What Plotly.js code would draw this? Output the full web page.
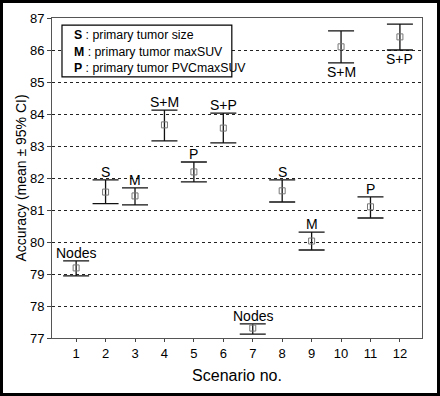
<!DOCTYPE html>
<html><head><meta charset="utf-8">
<script src="https://cdn.plot.ly/plotly-3.0.1.min.js"></script>
<style>
html,body{margin:0;padding:0;background:#fff;}
#wrap{position:relative;width:440px;height:396px;}
#frame{position:absolute;left:0;top:0;width:440px;height:396px;box-sizing:border-box;border:3px solid #000;pointer-events:none;}
</style></head>
<body><div id="wrap"><div id="plot" style="width:440px;height:396px;"></div><div id="frame"></div></div>
<script>
const scenarios = [1,2,3,4,5,6,7,8,9,10,11,12];
const means = [79.19,81.56,81.44,83.66,82.19,83.56,77.31,81.6,80.03,86.1,81.1,86.41];
const upper = [79.41,81.94,81.69,84.12,82.5,84.03,77.44,81.94,80.31,86.6,81.41,86.81];
const lower = [78.94,81.2,81.16,83.16,81.88,83.1,77.12,81.25,79.75,85.6,80.75,86.0];
const labels = ['Nodes','S','M','S+M','P','S+P','Nodes','S','M','S+M','P','S+P'];
const labelBelow = [false,false,false,false,false,false,false,false,false,true,false,true];
const yTicks = [77,78,79,80,81,82,83,84,85,86,87];
const legendKeys = ['S','M','P'];
const legendTexts = ['primary tumor size','primary tumor maxSUV','primary tumor PVCmaxSUV'];

const FONT = 'Liberation Sans, Arial, sans-serif';

const trace = {
  x: scenarios, y: means, type:'scatter', mode:'markers',
  marker:{symbol:'square-open', size:6, color:'#777', line:{width:1}},
  error_y:{type:'data', symmetric:false,
    array: upper.map((u,i)=>u-means[i]),
    arrayminus: lower.map((l,i)=>means[i]-l),
    color:'#111', thickness:1.3, width:13},
  hoverinfo:'none'
};

const annotations = scenarios.map((s,i)=>({
  x:s, y: labelBelow[i]? lower[i] : upper[i], xref:'x', yref:'y',
  text: labels[i], showarrow:false,
  yanchor: labelBelow[i]? 'top':'bottom', yshift: labelBelow[i]? 1 : -2,
  font:{family:FONT, size:14, color:'#000'}
}));
const legendY = [0.947, 0.894, 0.844];
legendKeys.forEach((k,i)=>{
  annotations.push({
    xref:'paper', yref:'paper', x:0.054, y:legendY[i], xanchor:'left', yanchor:'middle',
    text:'<b>'+k+'</b> : '+legendTexts[i], showarrow:false, align:'left',
    font:{family:FONT, size:12.3, color:'#000'}
  });
});

const layout = {
  width:440, height:396,
  margin:{l:52, r:18, t:18, b:58},
  paper_bgcolor:'#fff', plot_bgcolor:'#fff',
  showlegend:false,
  font:{family:FONT, color:'#000'},
  xaxis:{range:[0.18,12.75], tickvals:scenarios, ticktext:scenarios.map(String),
    showgrid:false, zeroline:false, ticks:'outside', ticklen:3, tickcolor:'#444',
    showline:true, linecolor:'#555', linewidth:1, mirror:true,
    tickfont:{size:13},
    title:{text:'Scenario no.', font:{size:16}, standoff:10}},
  yaxis:{range:[77,87], tickvals:yTicks, ticktext:yTicks.map(String),
    showgrid:true, gridcolor:'#222', griddash:'dot', gridwidth:1,
    zeroline:false, ticks:'outside', ticklen:4, tickcolor:'#444',
    showline:true, linecolor:'#555', linewidth:1, mirror:true,
    tickfont:{size:13},
    title:{text:'Accuracy (mean ± 95% CI)', font:{size:14}, standoff:0}},
  shapes:[{type:'rect', xref:'paper', yref:'paper', x0:0.027, x1:0.486, y0:0.816, y1:0.978,
    line:{color:'#000', width:1.2}, fillcolor:'#fff', layer:'above'}],
  annotations: annotations
};
Plotly.newPlot('plot',[trace],layout,{staticPlot:true});
</script></body></html>
